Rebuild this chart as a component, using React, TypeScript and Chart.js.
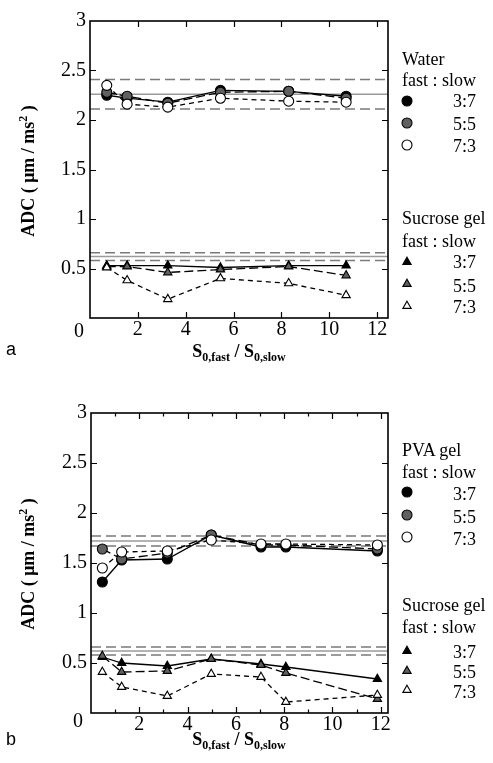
import React, { useEffect, useRef } from "react";
import { Chart, registerables } from "chart.js";
Chart.register(...registerables);

// ---------- Panel a data ----------
const xA = [0.7, 1.55, 3.25, 5.45, 8.3, 10.7];
const water37 = [2.25, 2.22, 2.18, 2.3, 2.29, 2.24];
const water55 = [2.28, 2.24, 2.17, 2.28, 2.29, 2.22];
const water73 = [2.35, 2.16, 2.13, 2.22, 2.19, 2.18];
const waterRef = [2.41, 2.26, 2.11];
const sucA37 = [0.53, 0.53, 0.53, 0.51, 0.53, 0.53];
const sucA55 = [0.52, 0.52, 0.46, 0.49, 0.52, 0.43];
const sucA73 = [0.51, 0.38, 0.19, 0.4, 0.35, 0.23];
const sucARef = [0.66, 0.62, 0.58];

// ---------- Panel b data ----------
const xB = [0.47, 1.27, 3.16, 4.98, 7.04, 8.07, 11.86];
const pva37 = [1.31, 1.53, 1.54, 1.78, 1.66, 1.66, 1.62];
const pva55 = [1.64, 1.54, 1.6, 1.78, 1.68, 1.68, 1.64];
const pva73 = [1.45, 1.61, 1.62, 1.73, 1.69, 1.69, 1.68];
const pvaRef = [1.77, 1.72, 1.67];
const sucB37 = [0.56, 0.5, 0.47, 0.54, 0.49, 0.46, 0.34];
const sucB55 = [0.57, 0.41, 0.42, 0.54, 0.48, 0.4, 0.14];
const sucB73 = [0.41, 0.26, 0.17, 0.39, 0.36, 0.11, 0.18];
const sucBRef = [0.66, 0.62, 0.58];

const ratioLabels = ["3:7", "5:5", "7:3"];
const yTicks = { min: 0, max: 3, step: 0.5 };

const SERIF = '"Liberation Serif", "Times New Roman", serif';
const FILLS = ["#000000", "#606060", "#ffffff"];
const DASHES: number[][] = [[], [9, 4], [5, 4]];

function series(xs: number[], ys: number[], k: number, style: string) {
  return {
    data: xs.map((x, i) => ({ x, y: ys[i] })),
    borderColor: "#000",
    borderWidth: 1.3,
    borderDash: DASHES[k],
    pointStyle: style,
    pointRadius: style === "circle" ? 5 : 4.8,
    pointBackgroundColor: FILLS[k],
    pointBorderColor: "#000",
    pointBorderWidth: 1.1,
    order: 2 - k,
    clip: false as any,
  };
}

function refLines(vals: number[], xmax: number) {
  return vals.map((v, i) => ({
    data: [
      { x: 0, y: v },
      { x: xmax, y: v },
    ],
    borderColor: i === 1 ? "#9a9a9a" : "#7a7a7a",
    borderWidth: 1.5,
    borderDash: i === 1 ? [] : [10, 5],
    pointRadius: 0,
    order: 10,
  }));
}

const boxPlugin = {
  id: "boxTicks",
  afterDraw(chart: any) {
    const { ctx, chartArea: a, scales } = chart;
    const o = chart.options.plugins.boxTicks;
    ctx.save();
    ctx.strokeStyle = "#000";
    ctx.setLineDash([]);
    ctx.lineWidth = 1.2;
    for (const t of scales.x.ticks) {
      const v = t.value;
      if (Math.abs(v - Math.round(v)) > 1e-6 || v <= 0) continue;
      const len = Math.round(v) % 2 === 0 ? 6 : 3.5;
      const px = Math.round(scales.x.getPixelForValue(v)) + 0.5;
      ctx.beginPath();
      ctx.moveTo(px, a.bottom);
      ctx.lineTo(px, a.bottom - len);
      ctx.moveTo(px, a.top);
      ctx.lineTo(px, a.top + len);
      ctx.stroke();
    }
    for (const t of scales.y.ticks) {
      const v = t.value;
      if (v <= 0 || v >= 3) continue;
      const py = Math.round(scales.y.getPixelForValue(v)) + 0.5;
      ctx.beginPath();
      ctx.moveTo(a.left, py);
      ctx.lineTo(a.left + 6, py);
      ctx.moveTo(a.right, py);
      ctx.lineTo(a.right - 6, py);
      ctx.stroke();
    }
    ctx.lineWidth = 1.6;
    ctx.strokeRect(a.left, a.top, a.right - a.left, a.bottom - a.top);
    // legend symbols
    ctx.lineWidth = 1.1;
    for (const m of o.markers) {
      ctx.fillStyle = FILLS[m.k];
      ctx.beginPath();
      if (m.style === "circle") {
        ctx.arc(m.x, m.y, 5, 0, Math.PI * 2);
      } else {
        const r = 4.8;
        let rad = 0;
        ctx.moveTo(m.x + Math.sin(rad) * r, m.y - Math.cos(rad) * r);
        rad += (2 * Math.PI) / 3;
        ctx.lineTo(m.x + Math.sin(rad) * r, m.y - Math.cos(rad) * r);
        rad += (2 * Math.PI) / 3;
        ctx.lineTo(m.x + Math.sin(rad) * r, m.y - Math.cos(rad) * r);
        ctx.closePath();
      }
      ctx.fill();
      ctx.stroke();
    }
    ctx.restore();
  },
};

function makeConfig(opts: {
  datasets: any[];
  xmax: number;
  xstep: number;
  yWidth: number;
  xHeight: number;
  top: number;
  markers: any[];
}) {
  return {
    type: "line",
    data: { datasets: opts.datasets },
    plugins: [boxPlugin],
    options: {
      responsive: false,
      animation: false,
      layout: { padding: { left: 0, right: 105, top: opts.top, bottom: 0 } },
      plugins: {
        legend: { display: false },
        tooltip: { enabled: false },
        boxTicks: { markers: opts.markers },
      },
      scales: {
        x: {
          type: "linear",
          min: 0,
          max: opts.xmax,
          grid: { display: false, drawTicks: false },
          border: { display: false },
          afterFit: (s: any) => {
            s.height = opts.xHeight;
          },
          ticks: {
            stepSize: opts.xstep,
            includeBounds: false,
            autoSkip: false,
            maxRotation: 0,
            padding: 0,
            color: "#000",
            font: { family: SERIF, size: 20 },
            callback: (v: any) => {
              const n = Number(v);
              if (n === 0) return "";
              if (Math.abs(n - Math.round(n)) > 1e-6) return "";
              return Math.round(n) % 2 === 0 ? String(Math.round(n)) : "";
            },
          },
        },
        y: {
          type: "linear",
          min: yTicks.min,
          max: yTicks.max,
          grid: { display: false, drawTicks: false },
          border: { display: false },
          afterFit: (s: any) => {
            s.width = opts.yWidth;
          },
          ticks: {
            stepSize: yTicks.step,
            padding: 4,
            color: "#000",
            font: { family: SERIF, size: 20 },
            callback: (v: any) => (Number(v) === 0 ? "" : String(v)),
          },
        },
      },
    },
  };
}

function ChartCanvas({ config, top, height }: { config: any; top: number; height: number }) {
  const ref = useRef<HTMLCanvasElement>(null);
  useEffect(() => {
    if (!ref.current) return;
    const c = new Chart(ref.current, config);
    return () => c.destroy();
  }, []);
  return (
    <canvas
      ref={ref}
      width={493}
      height={height}
      style={{ position: "absolute", left: 0, top, width: 493, height }}
    />
  );
}

const textBase: React.CSSProperties = {
  position: "absolute",
  fontFamily: SERIF,
  fontSize: 18,
  lineHeight: "20px",
  whiteSpace: "nowrap",
  color: "#000",
};

function T({ x, y, children, style }: { x: number; y: number; children: any; style?: React.CSSProperties }) {
  return <div style={{ ...textBase, left: x, top: y, ...style }}>{children}</div>;
}

function LegendBlock({ title, tops }: { title: string; tops: number[] }) {
  return (
    <>
      <T x={402} y={tops[0]}>{title}</T>
      <T x={402} y={tops[1]}>fast : slow</T>
      {ratioLabels.map((r, i) => (
        <T key={r} x={453} y={tops[i + 2]}>
          {r}
        </T>
      ))}
    </>
  );
}

function XTitle({ y }: { y: number }) {
  const sub: React.CSSProperties = { fontSize: 12, position: "relative", top: 4 };
  return (
    <div style={{ ...textBase, left: 89, width: 300, top: y, textAlign: "center", fontWeight: "bold" }}>
      S<span style={sub}>0,fast</span> / S<span style={sub}>0,slow</span>
    </div>
  );
}

function YTitle({ cy }: { cy: number }) {
  return (
    <div
      style={{
        ...textBase,
        left: 29 - 150,
        top: cy - 10,
        width: 300,
        textAlign: "center",
        fontWeight: "bold",
        transform: "rotate(-90deg)",
      }}
    >
      ADC ( μm / ms<span style={{ fontSize: 12, position: "relative", top: -7 }}>2</span> )
    </div>
  );
}

export default function App() {
  const xmaxA = 12.45;
  const xmaxB = 12.3;
  const dsA = [
    ...refLines(waterRef, xmaxA),
    ...refLines(sucARef, xmaxA),
    series(xA, water37, 0, "circle"),
    series(xA, water55, 1, "circle"),
    series(xA, water73, 2, "circle"),
    series(xA, sucA37, 0, "triangle"),
    series(xA, sucA55, 1, "triangle"),
    series(xA, sucA73, 2, "triangle"),
  ];
  const dsB = [
    ...refLines(pvaRef, xmaxB),
    ...refLines(sucBRef, xmaxB),
    series(xB, pva37, 0, "circle"),
    series(xB, pva55, 1, "circle"),
    series(xB, pva73, 2, "circle"),
    series(xB, sucB37, 0, "triangle"),
    series(xB, sucB55, 1, "triangle"),
    series(xB, sucB73, 2, "triangle"),
  ];
  const cfgA = makeConfig({
    datasets: dsA,
    xmax: xmaxA,
    xstep: 2,
    yWidth: 90,
    xHeight: 62,
    top: 21,
    markers: [
      { k: 0, style: "circle", x: 407, y: 101 },
      { k: 1, style: "circle", x: 407, y: 123 },
      { k: 2, style: "circle", x: 407, y: 145 },
      { k: 0, style: "triangle", x: 407, y: 262 },
      { k: 1, style: "triangle", x: 407, y: 284 },
      { k: 2, style: "triangle", x: 407, y: 306 },
    ],
  });
  const cfgB = makeConfig({
    datasets: dsB,
    xmax: xmaxB,
    xstep: 1,
    yWidth: 91,
    xHeight: 50,
    top: 33,
    markers: [
      { k: 0, style: "circle", x: 407, y: 112 },
      { k: 1, style: "circle", x: 407, y: 135 },
      { k: 2, style: "circle", x: 407, y: 157 },
      { k: 0, style: "triangle", x: 407, y: 271 },
      { k: 1, style: "triangle", x: 407, y: 291 },
      { k: 2, style: "triangle", x: 407, y: 310 },
    ],
  });
  return (
    <div style={{ position: "absolute", left: 0, top: 0, width: 493, height: 763, background: "#fff", overflow: "hidden" }}>
      <ChartCanvas config={cfgA} top={0} height={380} />
      <ChartCanvas config={cfgB} top={380} height={383} />
      <T x={74} y={319} style={{ fontSize: 20, lineHeight: "22px" }}>0</T>
      <T x={73} y={709} style={{ fontSize: 20, lineHeight: "22px" }}>0</T>
      <LegendBlock title="Water" tops={[49, 70, 91, 114, 136]} />
      <LegendBlock title="Sucrose gel" tops={[208, 231, 252, 276, 297]} />
      <LegendBlock title="PVA gel" tops={[440, 462, 484, 507, 529]} />
      <LegendBlock title="Sucrose gel" tops={[595, 617, 642, 662, 682]} />
      <XTitle y={341} />
      <XTitle y={729} />
      <YTitle cy={170} />
      <YTitle cy={563} />
      <T x={6} y={339} style={{ fontFamily: '"Liberation Sans", Arial, sans-serif' }}>a</T>
      <T x={6} y={729} style={{ fontFamily: '"Liberation Sans", Arial, sans-serif' }}>b</T>
    </div>
  );
}
